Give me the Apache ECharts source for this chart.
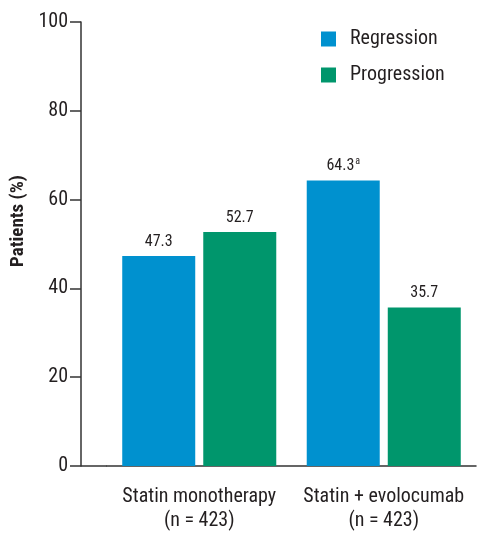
<!DOCTYPE html>
<html>
<head>
<meta charset="utf-8">
<script src="https://cdn.jsdelivr.net/npm/echarts@6/dist/echarts.min.js"></script>
<style>html,body{margin:0;padding:0;background:#fff}#c{width:481px;height:533px}</style>
</head>
<body>
<div id="c"></div>
<script>
var categories = ['Statin monotherapy\n(n = 423)', 'Statin + evolocumab\n(n = 423)'];
var regression = [47.3, 64.3];
var progression = [52.7, 35.7];
var regressionNotes = ['', 'a'];
var progressionNotes = ['', ''];
var yTicks = [0, 20, 40, 60, 80, 100];

var FONT = '"Roboto Condensed", "Noto Sans", sans-serif';
var TXT = '#231f20';
var GRID_LEFT = 107, GRID_RIGHT = 5, GRID_TOP = 22, GRID_BOTTOM = 63, Y_OFFSET = 26;

function lbl(notes) {
  return {
    show: true, position: 'top', distance: 6,
    formatter: function (p) {
      var n = notes[p.dataIndex];
      return '{v|' + p.value.toFixed(1) + '}' + (n ? '{s|' + n + '}' : '');
    },
    rich: {
      v: {fontSize: 16, color: TXT, fontFamily: FONT},
      s: {fontSize: 10, color: TXT, fontFamily: FONT, verticalAlign: 'top', padding: [0, 0, 8, 1]}
    }
  };
}

var chart = echarts.init(document.getElementById('c'));
chart.setOption({
  animation: false,
  textStyle: {fontFamily: FONT},
  grid: {left: GRID_LEFT, right: GRID_RIGHT, top: GRID_TOP, bottom: GRID_BOTTOM},
  legend: {
    orient: 'vertical', left: 321, top: 29, padding: 0, itemWidth: 15, itemHeight: 15, itemGap: 16,
    icon: 'rect',
    textStyle: {fontSize: 20, color: TXT, fontFamily: FONT, padding: [0, 0, 0, 9]},
    data: ['Regression', 'Progression']
  },
  xAxis: {
    type: 'category', data: categories,
    axisLine: {show: true, lineStyle: {color: '#333', width: 1.5}},
    axisTick: {show: false},
    axisLabel: {interval: 0, fontSize: 20, color: TXT, fontFamily: FONT, margin: 19, lineHeight: 24}
  },
  yAxis: {
    type: 'value', min: 0, max: 100, interval: 20, offset: Y_OFFSET,
    name: 'Patients (%)', nameLocation: 'middle', nameGap: 53,
    nameTextStyle: {fontSize: 19, fontWeight: 'bold', color: TXT, fontFamily: FONT, padding: [0, 0, 0, 46]},
    axisLine: {show: true, lineStyle: {color: '#333', width: 1.5}},
    axisTick: {show: true, inside: false, length: 11, lineStyle: {color: '#333', width: 1.5}},
    axisLabel: {fontSize: 20, color: TXT, fontFamily: FONT, margin: 13,
      formatter: function (v) { return yTicks.indexOf(v) >= 0 ? String(v) : ''; }},
    splitLine: {show: false}
  },
  series: [
    {name: 'Regression', type: 'bar', data: regression, barWidth: 73, barGap: '11%',
      itemStyle: {color: '#0091cf'}, label: lbl(regressionNotes)},
    {name: 'Progression', type: 'bar', data: progression, barWidth: 73, barGap: '11%',
      itemStyle: {color: '#00966c'}, label: lbl(progressionNotes)}
  ]
});
var zeroPt = chart.convertToPixel({gridIndex: 0}, [0, 0]);
chart.setOption({
  graphic: [{
    type: 'line', silent: true,
    shape: {x1: GRID_LEFT - Y_OFFSET, y1: zeroPt[1], x2: GRID_LEFT, y2: zeroPt[1]},
    style: {stroke: '#333', lineWidth: 1.5}
  }]
});
</script>
</body>
</html>
